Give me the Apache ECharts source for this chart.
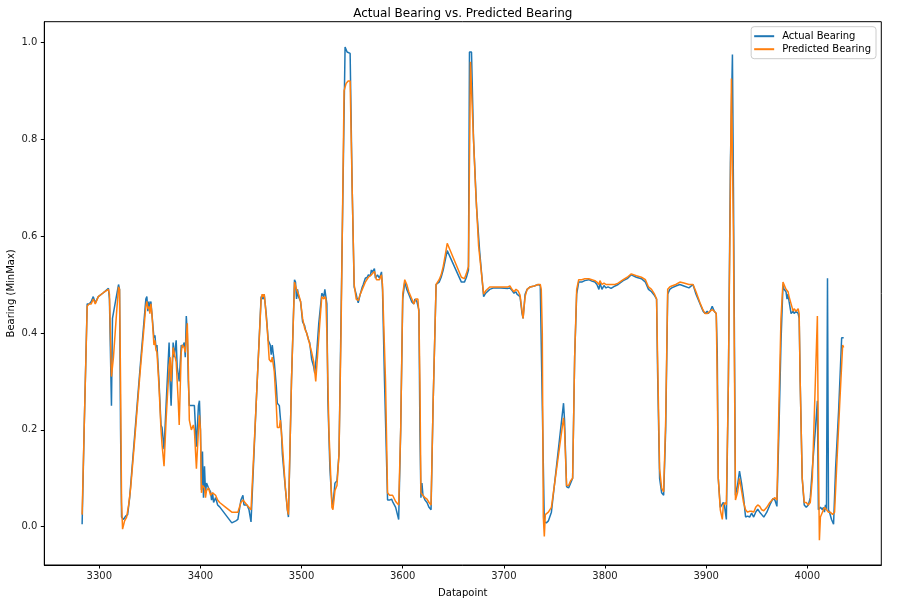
<!DOCTYPE html>
<html>
<head>
<meta charset="utf-8">
<script src="https://cdn.jsdelivr.net/npm/echarts@6/dist/echarts.min.js"></script>
<style>html,body{margin:0;padding:0;background:#fff}#c{width:903px;height:602px}</style>
</head>
<body>
<div id="c"></div>
<script>
const titleText = 'Actual Bearing vs. Predicted Bearing';
const xTicks = [3300, 3400, 3500, 3600, 3700, 3800, 3900, 4000];
const yTicks = [0.0, 0.2, 0.4, 0.6, 0.8, 1.0];

const actualIdx = [3283,3285,3288,3290,3292,3294,3296,3299,3304,3309,3310,3312,3313,3316,3319,3320,3321,3322,3324,3326,3328,3330,3335,3340,3346,3347,3348,3349,3350,3351,3352,3354,3355,3356,3357,3359,3361,3362,3364,3366,3369,3370,3371,3373,3374,3376,3377,3379,3381,3382,3384,3385,3386,3387,3388,3389,3394,3396,3398,3399,3400,3401,3402,3403,3404,3405,3406,3408,3410,3411,3412,3413,3415,3417,3419,3431,3435,3437,3440,3442,3443,3446,3448,3450,3455,3460,3461,3462,3463,3464,3465,3467,3469,3470,3471,3473,3475,3476,3478,3479,3480,3481,3484,3486,3487,3490,3493,3494,3495,3496,3497,3499,3501,3503,3504,3505,3507,3508,3510,3512,3513,3515,3517,3520,3522,3523,3524,3525,3526,3528,3530,3531,3533,3535,3537,3543,3545,3546,3548,3550,3552,3554,3555,3556,3558,3560,3561,3563,3565,3566,3568,3569,3570,3572,3573,3575,3577,3579,3580,3582,3585,3587,3589,3590,3593,3596,3598,3600,3602,3604,3606,3607,3609,3611,3612,3614,3616,3617,3618,3619,3620,3622,3624,3626,3628,3630,3633,3636,3638,3640,3642,3644,3658,3661,3663,3665,3666,3668,3670,3673,3676,3680,3682,3686,3690,3697,3704,3706,3708,3710,3712,3713,3714,3716,3718,3719,3721,3723,3726,3730,3734,3736,3737,3738,3740,3742,3744,3747,3759,3760,3762,3764,3766,3768,3770,3772,3774,3777,3780,3784,3787,3790,3792,3794,3795,3797,3799,3801,3803,3806,3810,3813,3818,3822,3826,3831,3836,3840,3843,3846,3849,3851,3852,3854,3856,3858,3860,3862,3864,3866,3870,3874,3878,3883,3887,3890,3894,3897,3899,3901,3902,3904,3905,3906,3908,3910,3911,3912,3914,3915,3917,3918,3920,3922,3924,3926,3927,3929,3931,3933,3935,3937,3939,3941,3943,3945,3947,3949,3951,3953,3955,3957,3960,3963,3966,3968,3970,3972,3974,3976,3977,3979,3980,3981,3982,3984,3986,3987,3989,3991,3992,3993,3995,3997,3999,4001,4003,4005,4008,4010,4011,4013,4015,4016,4017,4018,4019,4020,4021,4022,4024,4026,4028,4031,4034,4036];
const actualVal = [0.005,0.2,0.46,0.46,0.465,0.475,0.462,0.475,0.483,0.492,0.47,0.25,0.43,0.465,0.5,0.49,0.2,0.02,0.015,0.022,0.025,0.06,0.19,0.32,0.47,0.475,0.445,0.465,0.45,0.465,0.44,0.39,0.395,0.37,0.375,0.3,0.21,0.205,0.16,0.25,0.38,0.3,0.25,0.38,0.35,0.385,0.33,0.3,0.375,0.37,0.38,0.35,0.435,0.4,0.3,0.25,0.25,0.165,0.25,0.26,0.2,0.076,0.155,0.06,0.125,0.07,0.09,0.08,0.072,0.055,0.07,0.05,0.06,0.045,0.041,0.008,0.012,0.015,0.055,0.065,0.045,0.045,0.035,0.01,0.25,0.475,0.478,0.47,0.48,0.46,0.44,0.385,0.375,0.355,0.375,0.34,0.29,0.255,0.25,0.225,0.2,0.15,0.078,0.034,0.02,0.3,0.51,0.505,0.47,0.49,0.475,0.465,0.423,0.415,0.405,0.4,0.385,0.38,0.345,0.33,0.317,0.36,0.42,0.482,0.475,0.49,0.475,0.46,0.26,0.12,0.05,0.045,0.09,0.095,0.15,0.99,0.98,0.977,0.977,0.7,0.495,0.48,0.47,0.462,0.48,0.495,0.5,0.513,0.515,0.52,0.518,0.53,0.525,0.533,0.513,0.52,0.513,0.526,0.49,0.3,0.055,0.055,0.057,0.052,0.04,0.015,0.2,0.47,0.505,0.49,0.48,0.478,0.464,0.46,0.47,0.465,0.447,0.2,0.06,0.09,0.065,0.055,0.05,0.04,0.035,0.25,0.5,0.505,0.515,0.53,0.55,0.57,0.505,0.505,0.515,0.53,0.98,0.98,0.8,0.66,0.57,0.475,0.482,0.49,0.493,0.493,0.492,0.493,0.488,0.482,0.485,0.48,0.483,0.475,0.44,0.43,0.48,0.49,0.495,0.497,0.5,0.497,0.495,0.25,0.01,0.008,0.012,0.03,0.255,0.22,0.083,0.08,0.09,0.1,0.35,0.48,0.505,0.505,0.508,0.51,0.507,0.505,0.5,0.49,0.503,0.49,0.498,0.493,0.495,0.492,0.497,0.5,0.508,0.512,0.52,0.515,0.512,0.505,0.49,0.485,0.477,0.47,0.32,0.1,0.07,0.065,0.2,0.48,0.49,0.493,0.497,0.5,0.497,0.493,0.5,0.48,0.46,0.445,0.44,0.445,0.44,0.445,0.45,0.455,0.445,0.44,0.36,0.1,0.04,0.04,0.05,0.045,0.015,0.3,0.75,0.975,0.7,0.065,0.085,0.115,0.09,0.06,0.02,0.022,0.02,0.028,0.02,0.03,0.036,0.03,0.025,0.02,0.03,0.045,0.058,0.055,0.042,0.2,0.38,0.5,0.49,0.485,0.47,0.48,0.465,0.44,0.445,0.44,0.445,0.44,0.43,0.3,0.1,0.045,0.04,0.045,0.06,0.12,0.2,0.26,0.035,0.04,0.035,0.04,0.03,0.045,0.035,0.513,0.035,0.03,0.015,0.005,0.12,0.24,0.39,0.39];

const predIdx = [3283,3285,3288,3290,3292,3294,3296,3299,3304,3309,3310,3312,3314,3317,3319,3320,3321,3322,3323,3325,3327,3329,3331,3335,3340,3346,3347,3348,3349,3350,3351,3352,3354,3355,3356,3357,3359,3361,3362,3364,3366,3369,3370,3371,3373,3374,3376,3378,3379,3381,3382,3384,3385,3386,3387,3388,3389,3391,3393,3394,3396,3398,3399,3400,3401,3402,3404,3405,3406,3408,3410,3412,3415,3417,3419,3425,3431,3437,3440,3442,3444,3446,3450,3455,3460,3461,3462,3463,3464,3466,3468,3470,3471,3473,3475,3476,3478,3479,3481,3484,3486,3487,3490,3493,3494,3495,3497,3499,3501,3503,3505,3507,3510,3512,3513,3514,3516,3518,3520,3522,3523,3524,3525,3527,3530,3531,3533,3535,3537,3539,3542,3544,3546,3548,3550,3552,3554,3556,3558,3560,3563,3566,3569,3570,3572,3574,3577,3579,3580,3583,3585,3587,3590,3593,3596,3598,3600,3602,3604,3606,3609,3611,3613,3615,3616,3617,3618,3620,3622,3624,3626,3628,3630,3633,3636,3638,3640,3642,3644,3658,3661,3663,3665,3667,3669,3672,3675,3680,3682,3686,3690,3697,3704,3706,3708,3710,3712,3714,3716,3718,3719,3721,3723,3726,3730,3734,3736,3737,3738,3739,3740,3741,3744,3747,3759,3760,3762,3764,3766,3768,3770,3772,3774,3777,3780,3784,3787,3790,3792,3794,3795,3797,3799,3801,3803,3806,3810,3813,3818,3822,3826,3831,3836,3840,3843,3846,3849,3851,3852,3854,3856,3858,3860,3862,3864,3866,3870,3874,3878,3883,3887,3890,3894,3897,3899,3901,3902,3904,3906,3908,3910,3911,3912,3914,3916,3917,3919,3920,3922,3924,3925,3927,3929,3931,3933,3935,3937,3939,3941,3943,3945,3947,3949,3951,3953,3955,3957,3960,3963,3966,3968,3970,3972,3974,3976,3977,3979,3981,3982,3984,3986,3987,3989,3991,3992,3993,3995,3997,3999,4001,4003,4005,4008,4010,4011,4012,4013,4015,4017,4019,4021,4023,4025,4027,4029,4032,4035,4036];
const predVal = [0.025,0.2,0.455,0.46,0.46,0.47,0.46,0.475,0.483,0.49,0.48,0.31,0.35,0.44,0.495,0.49,0.3,0.05,-0.005,0.012,0.02,0.045,0.08,0.18,0.31,0.455,0.465,0.45,0.455,0.44,0.46,0.44,0.375,0.385,0.365,0.36,0.29,0.2,0.17,0.125,0.22,0.33,0.35,0.3,0.37,0.36,0.34,0.26,0.21,0.36,0.375,0.37,0.36,0.39,0.42,0.33,0.22,0.2,0.21,0.2,0.12,0.2,0.23,0.2,0.07,0.085,0.08,0.06,0.075,0.08,0.065,0.07,0.065,0.055,0.05,0.04,0.03,0.03,0.05,0.055,0.05,0.045,0.035,0.25,0.47,0.48,0.475,0.48,0.46,0.41,0.345,0.34,0.35,0.32,0.25,0.205,0.205,0.22,0.17,0.08,0.035,0.025,0.3,0.505,0.505,0.49,0.48,0.465,0.43,0.41,0.4,0.385,0.36,0.34,0.32,0.3,0.36,0.42,0.475,0.47,0.475,0.47,0.4,0.2,0.04,0.035,0.075,0.085,0.15,0.4,0.9,0.915,0.92,0.92,0.7,0.5,0.47,0.467,0.48,0.49,0.505,0.515,0.52,0.522,0.527,0.51,0.51,0.52,0.5,0.3,0.07,0.065,0.065,0.052,0.045,0.2,0.48,0.51,0.5,0.485,0.47,0.46,0.47,0.47,0.44,0.3,0.07,0.065,0.06,0.057,0.05,0.045,0.25,0.5,0.51,0.52,0.537,0.56,0.585,0.515,0.512,0.523,0.537,0.96,0.85,0.7,0.58,0.48,0.487,0.495,0.495,0.495,0.495,0.497,0.49,0.485,0.49,0.487,0.478,0.445,0.43,0.475,0.49,0.495,0.497,0.5,0.5,0.49,0.4,0.02,-0.02,0.025,0.03,0.04,0.225,0.2,0.085,0.085,0.095,0.1,0.35,0.49,0.51,0.51,0.512,0.512,0.51,0.508,0.505,0.5,0.508,0.5,0.503,0.5,0.5,0.5,0.5,0.503,0.51,0.515,0.522,0.518,0.515,0.51,0.495,0.49,0.48,0.47,0.35,0.12,0.08,0.072,0.22,0.49,0.495,0.497,0.5,0.505,0.503,0.5,0.5,0.485,0.462,0.447,0.44,0.44,0.44,0.445,0.448,0.445,0.44,0.3,0.1,0.035,0.015,0.045,0.05,0.045,0.3,0.7,0.925,0.6,0.055,0.07,0.1,0.075,0.05,0.035,0.03,0.032,0.032,0.03,0.04,0.045,0.042,0.035,0.033,0.04,0.05,0.057,0.06,0.055,0.25,0.43,0.505,0.5,0.49,0.485,0.475,0.46,0.445,0.45,0.445,0.45,0.44,0.3,0.1,0.05,0.05,0.045,0.05,0.1,0.3,0.435,0.15,-0.028,0.02,0.03,0.04,0.035,0.03,0.03,0.025,0.03,0.12,0.25,0.375,0.37];

const FONT = 'DejaVu Sans';
const pairs = (xs, ys) => xs.map((x, i) => [x, ys[i]]);

const chart = echarts.init(document.getElementById('c'), null, {renderer: 'canvas'});
chart.setOption({
  animation: false,
  backgroundColor: '#ffffff',
  textStyle: {fontFamily: FONT},
  title: {
    text: titleText, left: 457.8, top: 3, textAlign: 'center',
    textStyle: {fontFamily: FONT, fontSize: 12, fontWeight: 'normal', color: '#000'}
  },
  legend: {
    orient: 'vertical', right: 27, top: 26.7,
    padding: [3, 5, 3, 3], itemGap: 0, itemWidth: 20, itemHeight: 2,
    icon: 'rect',
    backgroundColor: 'rgba(255,255,255,0.8)', borderColor: '#cccccc', borderWidth: 1, borderRadius: 3,
    textStyle: {fontFamily: FONT, fontSize: 10, color: '#000', lineHeight: 13, padding: [0, 0, 0, 3]},
    data: ['Actual Bearing', 'Predicted Bearing']
  },
  grid: {
    left: 44.3, right: 21.7, top: 21.7, bottom: 37, containLabel: false, outerBoundsMode: 'none',
    show: true, borderColor: '#000', borderWidth: 1, backgroundColor: 'transparent'
  },
  xAxis: {
    type: 'value', min: 3245.6, max: 4073.2,
    name: 'Datapoint', nameLocation: 'middle', nameGap: 23, nameMoveOverlap: false,
    nameTextStyle: {fontFamily: FONT, fontSize: 10, color: '#000'},
    axisLine: {show: true, onZero: false, lineStyle: {color: '#000', width: 1}},
    axisTick: {show: true, inside: false, length: 3.5, lineStyle: {color: '#000'}, customValues: xTicks},
    axisLabel: {fontFamily: FONT, fontSize: 10, color: '#222', margin: 6, customValues: xTicks,
      formatter: v => String(v)},
    splitLine: {show: false}
  },
  yAxis: {
    type: 'value', min: -0.079, max: 1.0425,
    name: 'Bearing (MinMax)', nameLocation: 'middle', nameGap: 28, nameRotate: 90, nameMoveOverlap: false,
    nameTextStyle: {fontFamily: FONT, fontSize: 10, color: '#000'},
    axisLine: {show: true, onZero: false, lineStyle: {color: '#000', width: 1}},
    axisTick: {show: true, inside: false, length: 3.5, lineStyle: {color: '#000'}, customValues: yTicks},
    axisLabel: {fontFamily: FONT, fontSize: 10, color: '#222', margin: 7, customValues: yTicks,
      formatter: v => v.toFixed(1)},
    splitLine: {show: false}
  },
  series: [
    {name: 'Actual Bearing', type: 'line', data: pairs(actualIdx, actualVal), showSymbol: false, symbol: 'none',
      lineStyle: {color: '#1f77b4', width: 1.5}, itemStyle: {color: '#1f77b4'}, z: 2},
    {name: 'Predicted Bearing', type: 'line', data: pairs(predIdx, predVal), showSymbol: false, symbol: 'none',
      lineStyle: {color: '#ff7f0e', width: 1.5}, itemStyle: {color: '#ff7f0e'}, z: 3}
  ]
});
</script>
</body>
</html>
